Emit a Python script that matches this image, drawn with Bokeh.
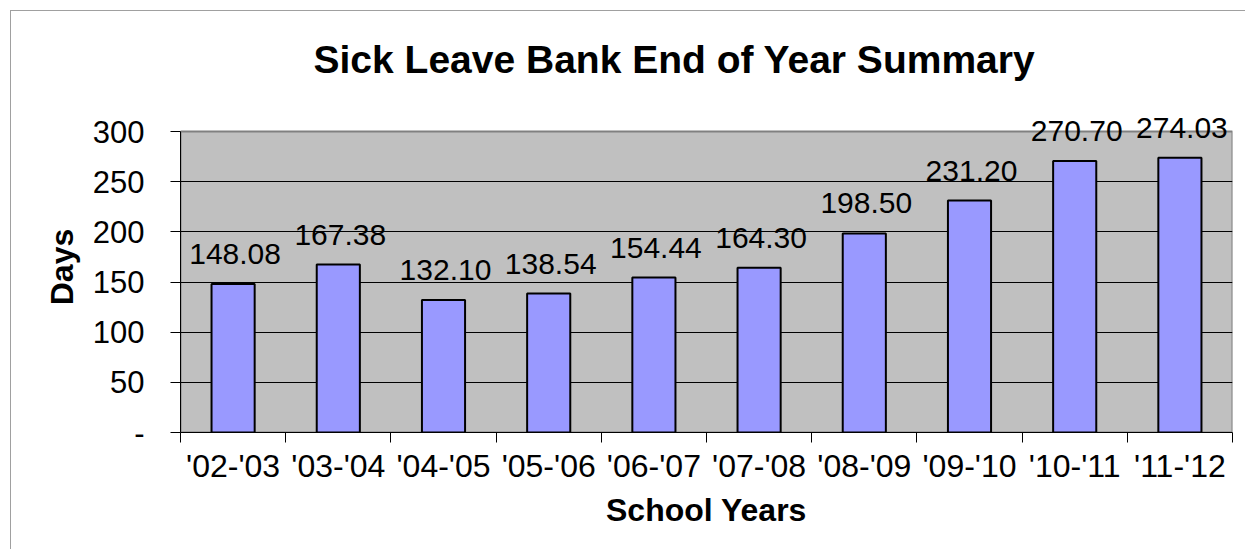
from bokeh.plotting import figure
from bokeh.models import FixedTicker, LabelSet, ColumnDataSource
from bokeh.core.properties import value
from bokeh.embed import file_html
from bokeh.resources import INLINE

years = ["'02-'03", "'03-'04", "'04-'05", "'05-'06", "'06-'07",
         "'07-'08", "'08-'09", "'09-'10", "'10-'11", "'11-'12"]
days = [148.08, 167.38, 132.10, 138.54, 154.44, 164.30, 198.50, 231.20, 270.70, 274.03]
y_ticks = [0, 50, 100, 150, 200, 250, 300]
y_tick_labels = ["-", "50", "100", "150", "200", "250", "300"]
y_max = 300

centers = [i + 0.5 for i in range(len(years))]
bounds = list(range(len(years) + 1))

src = ColumnDataSource(dict(x=centers, top=days, label=[f"{v:.2f}" for v in days]))

FONT = "Liberation Sans"

# frame extends a little above the 300 line so value labels are not clipped
p = figure(width=1235, height=539, x_range=(0, len(years)), y_range=(0, 330),
           output_backend="svg", toolbar_location=None,
           min_border_left=169, min_border_right=14, min_border_top=90, min_border_bottom=118)
p.margin = (10, 0, 0, 10)
p.styles = {"border-top": "1px solid #A0A0A0", "border-left": "1px solid #A0A0A0"}

p.background_fill_color = "white"
p.border_fill_color = "white"
p.outline_line_color = None

# grey plot area (0..300)
p.quad(left=[0], right=[len(years)], bottom=[0], top=[y_max],
       fill_color="#C0C0C0", line_color="#808080", line_width=2, level="image")

p.vbar(x="x", top="top", bottom=0, width=0.41, source=src,
       fill_color="#9999FF", line_color="black", line_width=2)

labels = LabelSet(x="x", y="top", text="label", source=src, text_align="center",
                  text_baseline="alphabetic", y_offset=20, x_offset=2,
                  text_font=value(FONT), text_font_size=value("30px"),
                  text_color="black")
p.add_layout(labels)

# grid
p.xgrid.visible = False
p.ygrid.ticker = FixedTicker(ticks=[t for t in y_ticks if 0 < t < y_max])
p.ygrid.grid_line_color = "black"
p.ygrid.grid_line_width = 1

# y axis
p.yaxis.bounds = (0, y_max)
p.yaxis.ticker = FixedTicker(ticks=y_ticks)
p.yaxis.major_label_overrides = {t: l for t, l in zip(y_ticks, y_tick_labels)}
p.yaxis.major_tick_out = 10
p.yaxis.major_tick_in = 0
p.yaxis.major_tick_line_color = "black"
p.yaxis.minor_tick_line_color = None
p.yaxis.axis_line_color = "black"
p.yaxis.major_label_text_font = FONT
p.yaxis.major_label_text_font_size = "31px"
p.yaxis.major_label_text_color = "black"
p.yaxis.major_label_standoff = 26
p.yaxis.axis_label = "Days"
p.yaxis.axis_label_text_font = FONT
p.yaxis.axis_label_text_font_style = "bold"
p.yaxis.axis_label_text_font_size = "32px"
p.yaxis.axis_label_text_color = "black"
p.yaxis.axis_label_standoff = 10

# x axis
p.xaxis.ticker = FixedTicker(ticks=centers, minor_ticks=bounds)
p.xaxis.major_label_overrides = {c: y for c, y in zip(centers, years)}
p.xaxis.major_tick_out = 0
p.xaxis.major_tick_in = 0
p.xaxis.major_tick_line_color = None
p.xaxis.minor_tick_out = 10
p.xaxis.minor_tick_in = 0
p.xaxis.minor_tick_line_color = "black"
p.xaxis.axis_line_color = "black"
p.xaxis.major_label_text_font = FONT
p.xaxis.major_label_text_font_size = "32px"
p.xaxis.major_label_text_color = "black"
p.xaxis.major_label_standoff = 5
p.xaxis.axis_label = "School Years"
p.xaxis.axis_label_text_font = FONT
p.xaxis.axis_label_text_font_style = "bold"
p.xaxis.axis_label_text_font_size = "32px"
p.xaxis.axis_label_text_color = "black"
p.xaxis.axis_label_standoff = 5

p.title.text = "Sick Leave Bank End of Year Summary"
p.title.align = "left"
p.title.offset = 133
p.title.text_font = FONT
p.title.text_font_style = "bold"
p.title.text_font_size = "39px"
p.title.text_color = "black"
p.title.standoff = 42

open("out.html", "w").write(file_html(p, INLINE))
